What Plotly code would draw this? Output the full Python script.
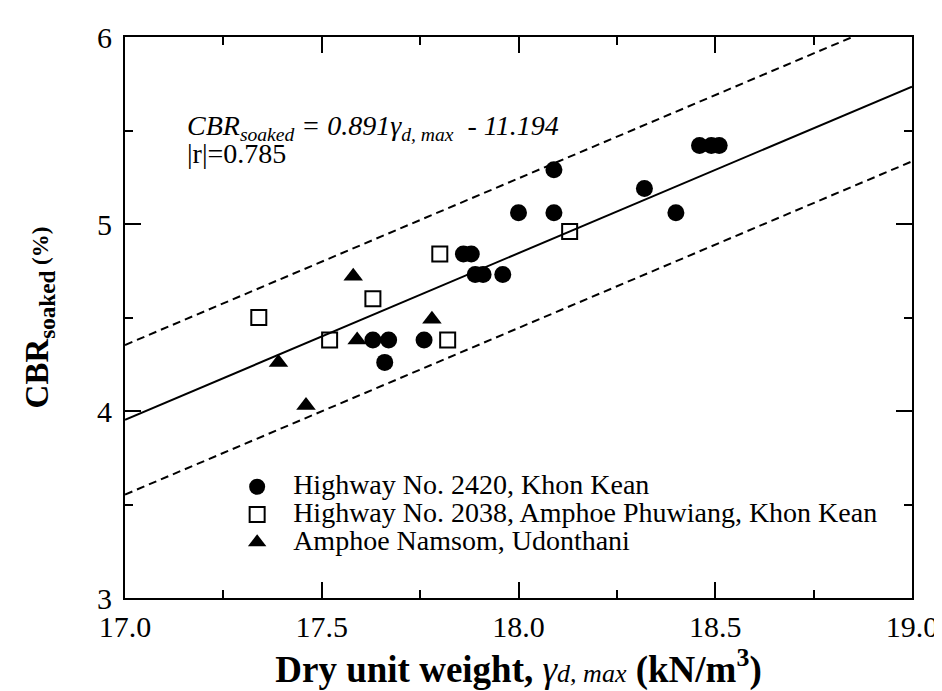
import plotly.graph_objects as go

# ---- data ----
hw2420_x = [17.63, 17.67, 17.66, 17.76, 17.86, 17.88, 17.89, 17.91, 17.96,
            18.00, 18.09, 18.09, 18.32, 18.40, 18.46, 18.49, 18.51]
hw2420_y = [4.38, 4.38, 4.26, 4.38, 4.84, 4.84, 4.73, 4.73, 4.73,
            5.06, 5.06, 5.29, 5.19, 5.06, 5.42, 5.42, 5.42]

hw2038_x = [17.34, 17.52, 17.63, 17.80, 17.82, 18.13]
hw2038_y = [4.50, 4.38, 4.60, 4.84, 4.38, 4.96]

namsom_x = [17.39, 17.46, 17.58, 17.59, 17.78]
namsom_y = [4.26, 4.03, 4.72, 4.38, 4.49]

fit_x = [17.0, 19.0]
fit_y = [3.953, 5.735]
upper_y = [4.353, 6.135]
lower_y = [3.553, 5.335]

names = ["Highway No. 2420, Khon Kean",
         "Highway No. 2038, Amphoe Phuwiang, Khon Kean",
         "Amphoe Namsom, Udonthani"]

FONT = "Liberation Serif"
LEG = 28

fig = go.Figure()

fig.add_trace(go.Scatter(x=fit_x, y=upper_y, mode="lines", showlegend=False,
                         line=dict(color="black", width=2, dash="8px,5px"), hoverinfo="skip"))
fig.add_trace(go.Scatter(x=fit_x, y=lower_y, mode="lines", showlegend=False,
                         line=dict(color="black", width=2, dash="8px,5px"), hoverinfo="skip"))
fig.add_trace(go.Scatter(x=fit_x, y=fit_y, mode="lines", showlegend=False,
                         line=dict(color="black", width=2), hoverinfo="skip"))

fig.add_trace(go.Scatter(x=hw2420_x, y=hw2420_y, mode="markers",
                         name=f'<span style="font-size:{LEG}px">{names[0]}</span>',
                         marker=dict(symbol="circle", size=17, color="black")))
fig.add_trace(go.Scatter(x=hw2038_x, y=hw2038_y, mode="markers",
                         name=f'<span style="font-size:{LEG}px">{names[1]}</span>',
                         marker=dict(symbol="square-open", size=15, color="black",
                                     line=dict(width=2, color="black"))))
fig.add_trace(go.Scatter(x=namsom_x, y=namsom_y, mode="markers",
                         name=f'<span style="font-size:{LEG}px">{names[2]}</span>',
                         marker=dict(symbol="triangle-up", size=17, color="black")))

axis_common = dict(
    showline=True, linecolor="black", linewidth=2, mirror="ticks",
    ticks="inside", ticklen=16, tickwidth=2, tickcolor="black",
    showgrid=False, zeroline=False,
    tickfont=dict(family=FONT, size=30, color="black"),
)

fig.update_xaxes(range=[17.0, 19.0], dtick=0.5, tick0=17.0, tickformat=".1f",
                 minor=dict(dtick=0.25, ticks="inside", ticklen=8, tickwidth=2,
                            tickcolor="black", showgrid=False),
                 ticklabelstandoff=1,
                 title=dict(text="<b>Dry unit weight, </b><i>γ<span style='font-size:26px'>d, max</span></i><b> (kN/m<sup>3</sup>)</b>",
                            font=dict(family=FONT, size=37, color="black"), standoff=6),
                 **axis_common)
fig.update_yaxes(range=[3, 6], dtick=1, tick0=3,
                 minor=dict(dtick=0.5, ticks="inside", ticklen=8, tickwidth=2,
                            tickcolor="black", showgrid=False),
                 ticklabelstandoff=5,
                 title=dict(text="<b>CBR<sub>soaked</sub><span style='font-size:23px'> (%)</span></b>",
                            font=dict(family=FONT, size=33, color="black"), standoff=38),
                 **axis_common)

fig.add_annotation(xref="paper", yref="paper", x=(178 - 117) / 794, y=(590 - 136) / 565,
                   xanchor="left", yanchor="bottom", showarrow=False,
                   text="<i>CBR<sub>soaked</sub> = 0.891γ<sub>d, max</sub>  - 11.194</i>",
                   font=dict(family=FONT, size=28, color="black"))
fig.add_annotation(xref="paper", yref="paper", x=(178 - 117) / 794, y=(590 - 160) / 565,
                   xanchor="left", yanchor="bottom", showarrow=False,
                   text="|r|=0.785",
                   font=dict(family=FONT, size=28, color="black"))

fig.update_layout(
    width=942, height=691,
    margin=dict(l=117, r=31, t=25, b=101),
    paper_bgcolor="white", plot_bgcolor="white",
    font=dict(family=FONT, color="black"),
    showlegend=True,
    legend=dict(x=(214 - 117) / 794, y=(590 - 459) / 565, xanchor="left", yanchor="top",
                bgcolor="rgba(0,0,0,0)", borderwidth=0, itemwidth=62,
                font=dict(family=FONT, size=19, color="black"), tracegroupgap=0),
)

fig.write_html("out.html")
